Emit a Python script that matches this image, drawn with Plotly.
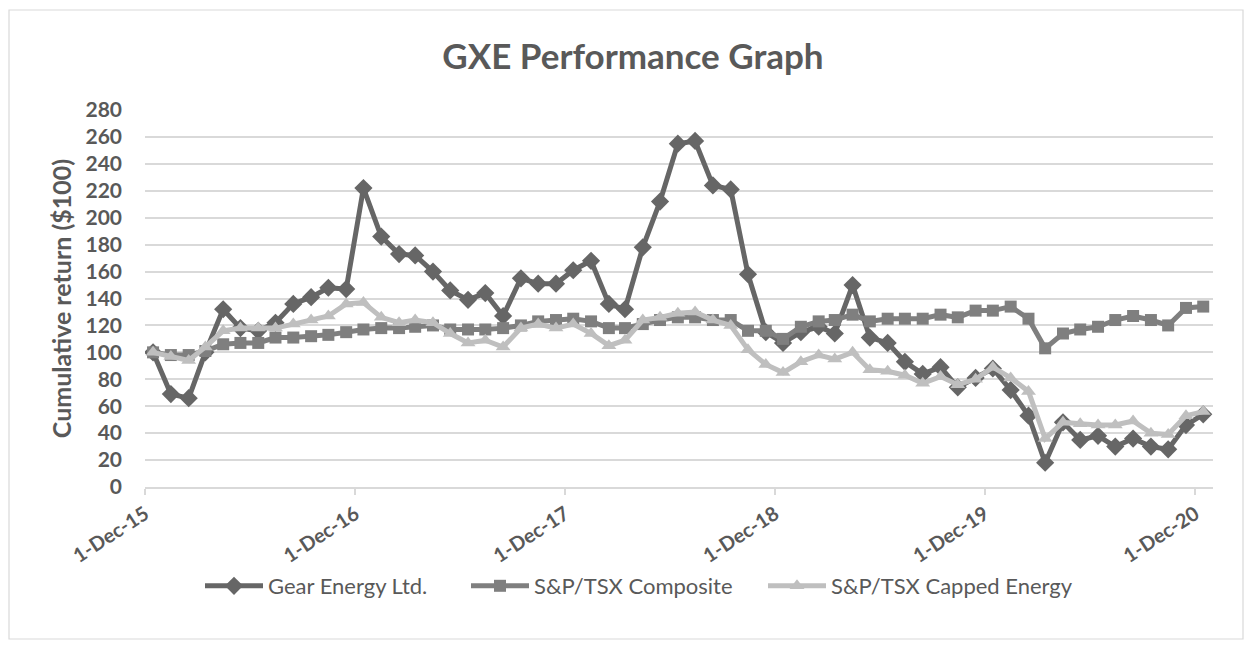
import plotly.graph_objects as go
import pandas as pd

# Monthly observations, Dec 2015 .. Dec 2020 (61 points, mid-month)
months = pd.date_range("2015-12-01", periods=61, freq="MS") + pd.Timedelta(days=14)

gear = [100, 69, 66, 100, 132, 118, 116, 122, 136, 141, 148, 147, 222,
        186, 173, 172, 160, 146, 139, 144, 127, 155, 151, 151, 161,
        168, 136, 132, 178, 212, 255, 257, 224, 221, 158, 115, 107,
        115, 119, 114, 150, 111, 107, 93, 84, 89, 74, 81, 88,
        72, 53, 18, 48, 35, 38, 30, 36, 30, 28, 46, 54]

composite = [100, 98, 98, 101, 106, 107, 107, 111, 111, 112, 113, 115, 117,
             118, 118, 119, 120, 117, 117, 117, 118, 120, 123, 124, 125,
             123, 118, 118, 121, 124, 126, 126, 124, 124, 116, 116, 110,
             119, 123, 124, 128, 123, 125, 125, 125, 128, 126, 131, 131,
             134, 125, 103, 114, 117, 119, 124, 127, 124, 120, 133, 134]

capped = [100, 97, 94, 104, 116, 118, 118, 118, 121, 124, 127, 136, 137,
          126, 122, 124, 122, 114, 107, 109, 104, 118, 121, 118, 121,
          114, 105, 109, 124, 126, 129, 130, 124, 120, 102, 91, 85,
          93, 98, 95, 100, 87, 86, 83, 77, 82, 76, 80, 89,
          81, 71, 36, 48, 47, 46, 46, 49, 40, 39, 53, 56]

series_names = ["Gear Energy Ltd.", "S&P/TSX Composite", "S&P/TSX Capped Energy"]
tick_dates = ["2015-12-01", "2016-12-01", "2017-12-01", "2018-12-01", "2019-12-01", "2020-12-01"]
y_ticks = list(range(0, 281, 20))

TXT = "#595959"
FONT = "Lato"

# figure sized so that page (with 8px body margin) fits the 1252x648 window
W, H = 1236, 632
# plot area in figure pixels
L, R, T, B = 137, 1205, 102, 479

fig = go.Figure()
styles = [
    (gear, "#666666", "diamond", 14, "legend"),
    (composite, "#7f7f7f", "square", 12, "legend2"),
    (capped, "#bfbfbf", "triangle-up", 13, "legend3"),
]
for name, (vals, col, sym, ms, lg) in zip(series_names, styles):
    fig.add_trace(go.Scatter(
        x=months, y=vals, name=name, mode="lines+markers",
        line=dict(color=col, width=5),
        marker=dict(symbol=sym, size=ms, color=col),
        legend=lg,
    ))

leg_common = dict(orientation="h", xref="container", yref="container",
                  xanchor="left", y=1 - 578 / H, yanchor="middle",
                  font=dict(size=22, color=TXT, family=FONT),
                  itemwidth=58, bgcolor="rgba(0,0,0,0)")

fig.update_layout(
    width=W, height=H,
    paper_bgcolor="white", plot_bgcolor="white",
    margin=dict(l=L, r=W - R, t=T, b=H - B, autoexpand=False),
    font=dict(family=FONT, color=TXT),
    title=dict(text="<b>GXE Performance Graph</b>", x=625 / W, xanchor="center",
               xref="container", y=1 - 49 / H, yanchor="middle",
               font=dict(size=35, color=TXT, family=FONT)),
    showlegend=True,
    legend=dict(x=192 / W, **leg_common),
    legend2=dict(x=458 / W, **leg_common),
    legend3=dict(x=755 / W, **leg_common),
)
fig.update_xaxes(
    type="date", range=["2015-12-01", "2021-01-01"], automargin=False,
    tickvals=tick_dates, tickformat="%-d-%b-%y", tickangle=-33,
    tickfont=dict(size=20, color=TXT, family=FONT, weight="bold"),
    showgrid=False, zeroline=False,
    showline=True, linecolor="#d9d9d9", linewidth=1.5,
    ticks="outside", ticklen=6, tickcolor="#d9d9d9", tickwidth=1.5,
)
fig.update_yaxes(
    range=[0, 280], tickvals=y_ticks, automargin=False,
    tickfont=dict(size=21, color=TXT, family=FONT, weight="bold"),
    showgrid=True, gridcolor="#d9d9d9", gridwidth=1.5,
    zeroline=False, showline=False, ticks="",
    ticklabelstandoff=22,
    title=dict(text="<b>Cumulative return ($100)</b>", standoff=6,
               font=dict(size=25, color=TXT, family=FONT)),
)

# chart-area border
fig.add_shape(type="rect", xref="paper", yref="paper",
              x0=(1 - L) / (R - L), x1=(1235 - L) / (R - L),
              y0=(B - 631) / (B - T), y1=(B - 2) / (B - T),
              line=dict(color="#d9d9d9", width=1.2), fillcolor="rgba(0,0,0,0)",
              layer="below")

fig.write_html("out.html")
